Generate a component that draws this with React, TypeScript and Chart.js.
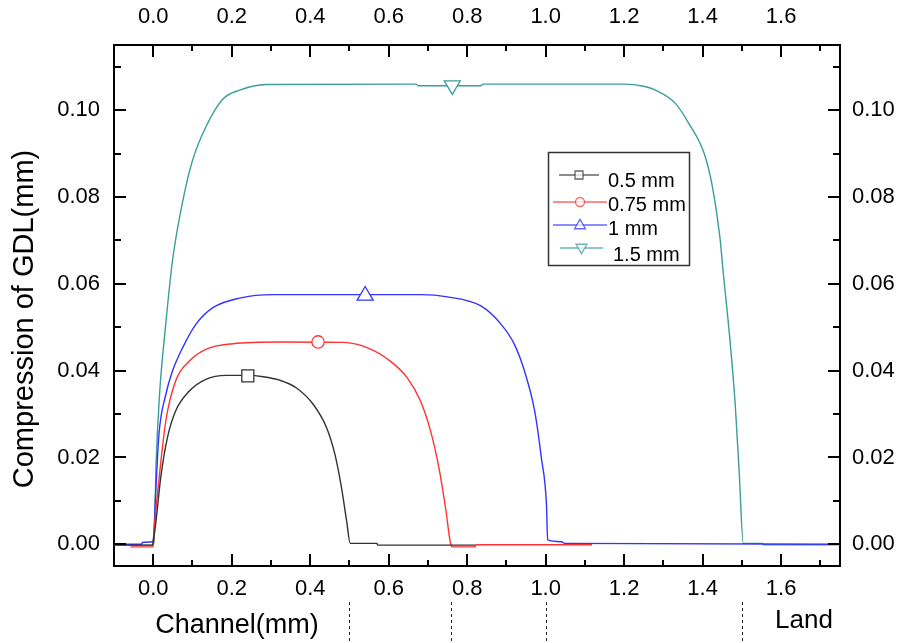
import React, { useEffect, useRef } from 'react';
import { Chart, registerables } from 'chart.js';

Chart.register(...registerables);

// ---------- data ----------
const xRange = [-0.1, 1.75];
const yRange = [-0.005, 0.115];
const xMajorTicks = [0, 0.2, 0.4, 0.6, 0.8, 1.0, 1.2, 1.4, 1.6];
const xMinorTicks = [0.1, 0.3, 0.5, 0.7, 0.9, 1.1, 1.3, 1.5, 1.7];
const yMajorTicks = [0, 0.02, 0.04, 0.06, 0.08, 0.1];
const yMinorTicks = [0.01, 0.03, 0.05, 0.07, 0.09, 0.11];
const boundaryX = [0.5, 0.76, 1.0, 1.5];

const seriesLabels = ['0.5 mm', '0.75 mm', '1 mm', '1.5 mm'];
const seriesColors = ['#333333', '#ff3333', '#3333ff', '#3a9e9a'];
const seriesMarkers = ['rect', 'circle', 'triangle', 'triangleDown'];

const w05X = [-0.1, -0.002, 0.0, 0.006, 0.019, 0.036, 0.057, 0.092, 0.134, 0.186, 0.241, 0.28, 0.322, 0.365, 0.408, 0.442, 0.463, 0.48, 0.493, 0.502, 0.57, 0.572, 0.82];
const w05Y = [-0.0002, -0.0002, 0.0008, 0.0045, 0.0153, 0.0245, 0.0307, 0.0353, 0.038, 0.0389, 0.0389, 0.0386, 0.0378, 0.036, 0.0322, 0.0268, 0.0207, 0.0129, 0.0052, 0.0002, 0.0002, -0.0002, -0.0002];

const w075X = [-0.058, -0.001, 0.0, 0.004, 0.015, 0.032, 0.057, 0.092, 0.134, 0.203, 0.322, 0.485, 0.545, 0.604, 0.647, 0.681, 0.707, 0.728, 0.745, 0.758, 0.762, 0.82, 0.822, 1.118];
const w075Y = [-0.0006, -0.0006, 0.0, 0.0052, 0.0153, 0.0284, 0.0376, 0.0422, 0.0449, 0.0462, 0.0466, 0.0465, 0.0453, 0.0422, 0.0384, 0.033, 0.026, 0.0176, 0.0083, 0.0, -0.0006, -0.0006, -0.0001, -0.0001];

const w1X = [-0.1, -0.03, -0.028, -0.001, 0.0, 0.006, 0.0145, 0.032, 0.049, 0.075, 0.109, 0.152, 0.22, 0.305, 0.681, 0.75, 0.835, 0.886, 0.92, 0.946, 0.972, 0.989, 1.002, 1.005, 1.04, 1.048, 1.75];
const w1Y = [0.0, 0.0, 0.0004, 0.0006, 0.0008, 0.0114, 0.0253, 0.0345, 0.0399, 0.0453, 0.0507, 0.0545, 0.0567, 0.0575, 0.0575, 0.057, 0.0549, 0.0507, 0.0461, 0.0399, 0.0307, 0.0199, 0.0091, 0.001, 0.0006, 0.0002, 0.0];

const w15X = [-0.1, -0.001, 0.002, 0.0075, 0.016, 0.031, 0.049, 0.079, 0.1, 0.134, 0.177, 0.22, 0.288, 0.67, 0.675, 0.835, 0.84, 1.2, 1.25, 1.28, 1.331, 1.365, 1.404, 1.425, 1.444, 1.452, 1.469, 1.483, 1.493, 1.5036, 1.553, 1.555, 1.75];
const w15Y = [-0.0002, -0.0002, 0.0006, 0.0191, 0.0345, 0.0499, 0.0653, 0.0807, 0.0884, 0.0961, 0.1025, 0.1046, 0.1059, 0.106, 0.1056, 0.1056, 0.106, 0.106, 0.1055, 0.1046, 0.1015, 0.0969, 0.09, 0.0823, 0.0707, 0.063, 0.0476, 0.0322, 0.0168, 0.0002, 0.0002, -0.0001, -0.0001];

const markerX = [0.241, 0.42, 0.54, 0.762];
const markerY = [0.0388, 0.0466, 0.0575, 0.1055];

const seriesX = [w05X, w075X, w1X, w15X];
const seriesY = [w05Y, w075Y, w1Y, w15Y];

const FONT = '"Liberation Sans", Arial, Helvetica, sans-serif';

function drawMarker(ctx: CanvasRenderingContext2D, style: string, x: number, y: number, s: number) {
  ctx.beginPath();
  if (style === 'rect') {
    ctx.rect(x - s, y - s, 2 * s, 2 * s);
  } else if (style === 'circle') {
    ctx.arc(x, y, s, 0, Math.PI * 2);
  } else if (style === 'triangle') {
    const h = s * 1.7;
    ctx.moveTo(x, y - h * 0.6);
    ctx.lineTo(x + s, y + h * 0.4);
    ctx.lineTo(x - s, y + h * 0.4);
    ctx.closePath();
  } else {
    const h = s * 1.7;
    ctx.moveTo(x, y + h * 0.6);
    ctx.lineTo(x + s, y - h * 0.4);
    ctx.lineTo(x - s, y - h * 0.4);
    ctx.closePath();
  }
  ctx.fillStyle = '#ffffff';
  ctx.fill();
  ctx.stroke();
}

const decorPlugin = {
  id: 'decor',
  afterDatasetsDraw(chart: any) {
    const ctx: CanvasRenderingContext2D = chart.ctx;
    const xs = chart.scales.x;
    const ys = chart.scales.y;
    ctx.save();
    ctx.lineWidth = 1.3;
    markerX.forEach((mx, i) => {
      ctx.strokeStyle = seriesColors[i];
      const size = seriesMarkers[i] === 'circle' ? 6.2 : seriesMarkers[i] === 'rect' ? 6 : 8;
      drawMarker(ctx, seriesMarkers[i], xs.getPixelForValue(mx), ys.getPixelForValue(markerY[i]), size);
    });
    ctx.restore();
  },
  afterDraw(chart: any) {
    const ctx: CanvasRenderingContext2D = chart.ctx;
    const { left, right, top, bottom } = chart.chartArea;
    const xs = chart.scales.x;
    const ys = chart.scales.y;
    ctx.save();
    ctx.strokeStyle = '#000';
    ctx.lineWidth = 2;
    const xTick = (v: number, len: number) => {
      const px = Math.round(xs.getPixelForValue(v));
      ctx.beginPath();
      ctx.moveTo(px, bottom);
      ctx.lineTo(px, bottom - len);
      ctx.moveTo(px, top);
      ctx.lineTo(px, top + len);
      ctx.stroke();
    };
    const yTick = (v: number, len: number) => {
      const py = Math.round(ys.getPixelForValue(v));
      ctx.beginPath();
      ctx.moveTo(left, py);
      ctx.lineTo(left + len, py);
      ctx.moveTo(right, py);
      ctx.lineTo(right - len, py);
      ctx.stroke();
    };
    xMajorTicks.forEach((v) => xTick(v, 12));
    xMinorTicks.forEach((v) => xTick(v, 6));
    yMajorTicks.forEach((v) => yTick(v, 12));
    yMinorTicks.forEach((v) => yTick(v, 7));

    // boundary dashed lines
    ctx.lineWidth = 1;
    ctx.strokeStyle = '#222';
    ctx.setLineDash([3, 3]);
    boundaryX.forEach((v) => {
      const px = Math.round(xs.getPixelForValue(v)) + 0.5;
      ctx.beginPath();
      ctx.moveTo(px, bottom + 36);
      ctx.lineTo(px, bottom + 75);
      ctx.stroke();
    });
    ctx.setLineDash([]);

    // axis titles
    ctx.fillStyle = '#000';
    ctx.textAlign = 'center';
    ctx.textBaseline = 'middle';
    ctx.font = `27px ${FONT}`;
    ctx.fillText('Channel(mm)', 237, 626);
    ctx.font = `26px ${FONT}`;
    ctx.fillText('Land', 804, 621);
    ctx.save();
    ctx.translate(25, 319);
    ctx.rotate(-Math.PI / 2);
    ctx.font = `29px ${FONT}`;
    ctx.fillText('Compression of GDL(mm)', 0, 0);
    ctx.restore();

    // legend
    const bx = 548.5, by = 152.5, bw = 141, bh = 113;
    ctx.fillStyle = '#fff';
    ctx.fillRect(bx, by, bw, bh);
    ctx.strokeStyle = '#333';
    ctx.lineWidth = 1.5;
    ctx.strokeRect(bx, by, bw, bh);
    const rows = [
      { y: 175, x0: 559, x1: 599, tx: 608, ty: 181, ms: 4 },
      { y: 202, x0: 553, x1: 607, tx: 608, ty: 205, ms: 4.5 },
      { y: 225, x0: 553, x1: 607, tx: 608, ty: 229, ms: 5.5 },
      { y: 248, x0: 560, x1: 603, tx: 613, ty: 255, ms: 5.5 },
    ];
    ctx.font = `20px ${FONT}`;
    ctx.textAlign = 'left';
    rows.forEach((r, i) => {
      ctx.globalAlpha = 0.75;
      ctx.strokeStyle = seriesColors[i];
      ctx.lineWidth = 1.3;
      ctx.beginPath();
      ctx.moveTo(r.x0, r.y);
      ctx.lineTo(r.x1, r.y);
      ctx.stroke();
      drawMarker(ctx, seriesMarkers[i], (r.x0 + r.x1) / 2, r.y, r.ms);
      ctx.globalAlpha = 1;
      ctx.fillStyle = '#000';
      ctx.fillText(seriesLabels[i], r.tx, r.ty);
    });
    ctx.restore();
  },
};

export default function App() {
  const ref = useRef<HTMLCanvasElement | null>(null);
  useEffect(() => {
    document.body.style.margin = '0';
    if (!ref.current) return;
    const tickFont = { family: FONT, size: 22 };
    const common = {
      type: 'linear' as const,
      grid: { display: false, drawTicks: false },
      border: { display: true, color: '#000', width: 2 },
    };
    const xAxis = (position: string, h: number, pad: number) => ({
      ...common,
      position,
      min: xRange[0],
      max: xRange[1],
      afterBuildTicks: (s: any) => {
        s.ticks = xMajorTicks.map((v) => ({ value: v }));
      },
      afterFit: (s: any) => {
        s.height = h;
      },
      ticks: {
        padding: pad,
        autoSkip: false,
        maxRotation: 0,
        color: '#000',
        font: tickFont,
        callback: (v: any) => Number(v).toFixed(1),
      },
    });
    const yAxis = (position: string, w: number, pad: number) => ({
      ...common,
      position,
      min: yRange[0],
      max: yRange[1],
      afterBuildTicks: (s: any) => {
        s.ticks = yMajorTicks.map((v) => ({ value: v }));
      },
      afterFit: (s: any) => {
        s.width = w;
      },
      ticks: {
        padding: pad,
        autoSkip: false,
        color: '#000',
        font: tickFont,
        callback: (v: any) => Number(v).toFixed(2),
      },
    });
    const datasets = seriesX.map((xs, i) => ({
      label: seriesLabels[i],
      data: xs.map((x, j) => ({ x, y: seriesY[i][j] })),
      borderColor: seriesColors[i],
      backgroundColor: seriesColors[i],
      borderWidth: 1.4,
      pointRadius: 0,
      showLine: true,
      cubicInterpolationMode: 'monotone',
      xAxisID: 'x',
      yAxisID: 'y',
    }));
    const chart = new Chart(ref.current, {
      type: 'scatter',
      data: { datasets },
      options: {
        responsive: false,
        animation: false,
        layout: { padding: 0 },
        plugins: { legend: { display: false }, tooltip: { enabled: false } },
        scales: {
          x: xAxis('bottom', 77, 10),
          x2: xAxis('top', 45, 15),
          y: yAxis('left', 114, 14),
          y2: yAxis('right', 61, 12),
        },
      } as any,
      plugins: [decorPlugin],
    });
    return () => chart.destroy();
  }, []);
  return (
    <div style={{ width: 901, height: 643, background: '#fff' }}>
      <canvas ref={ref} width={901} height={643} style={{ display: 'block' }} />
    </div>
  );
}
